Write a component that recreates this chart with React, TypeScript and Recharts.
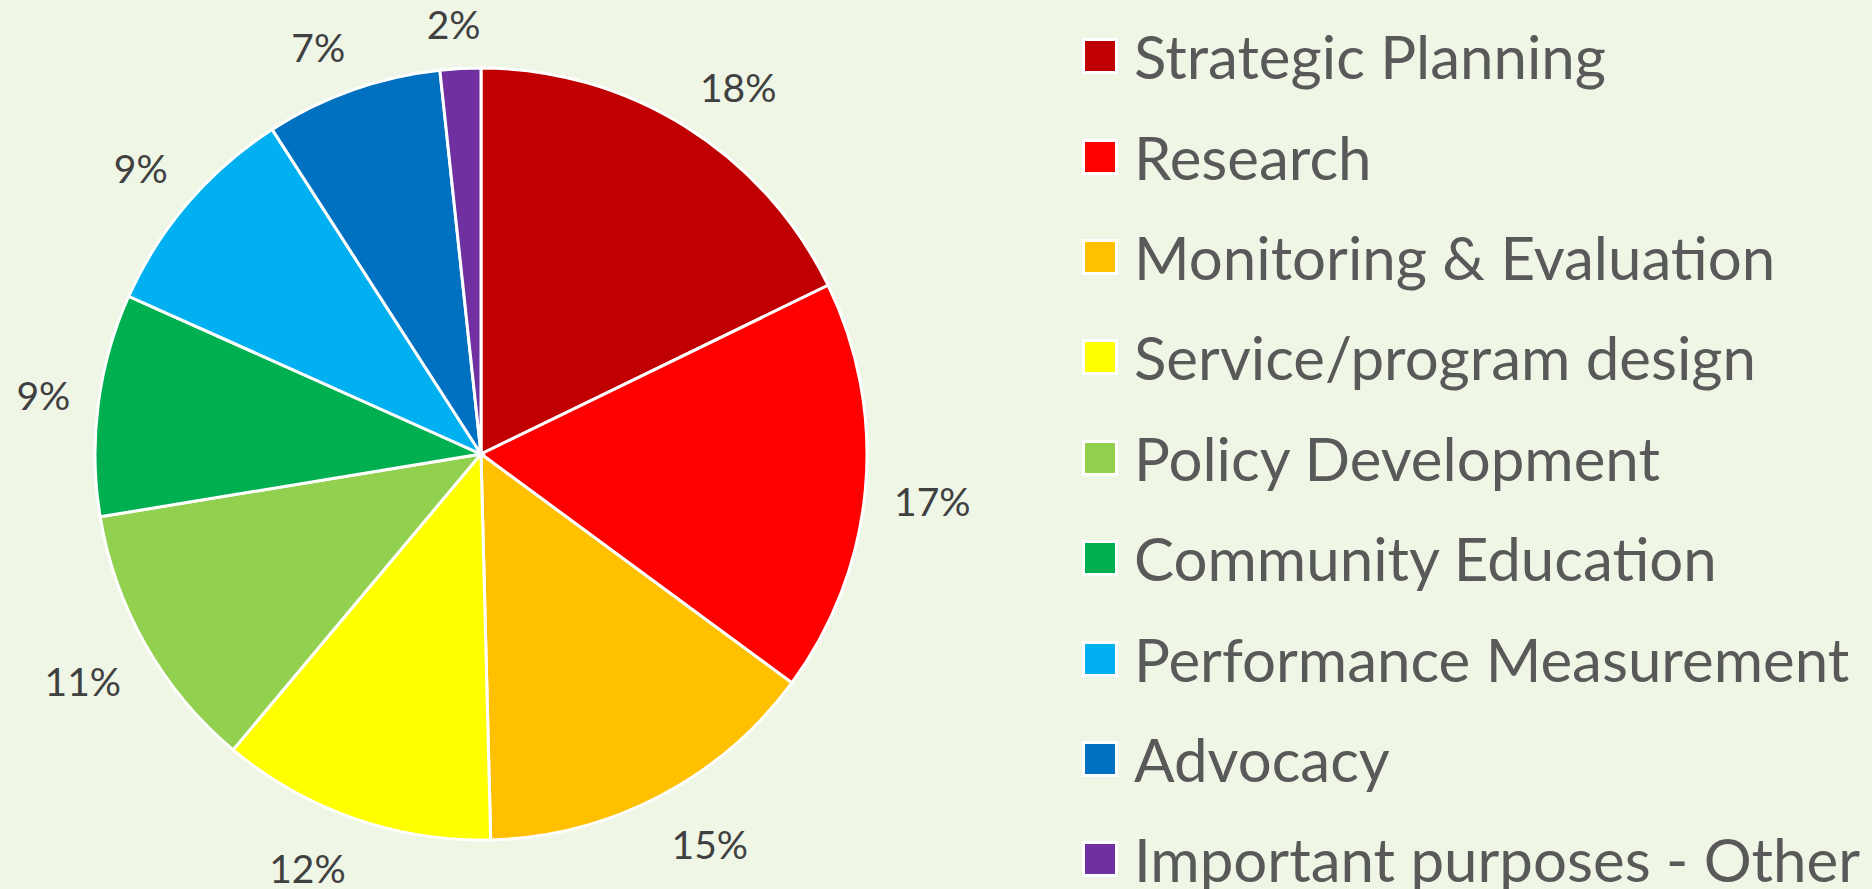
import { PieChart, Pie, Cell, Legend } from "recharts";

const categories = [
  "Strategic Planning",
  "Research",
  "Monitoring & Evaluation",
  "Service/program design",
  "Policy Development",
  "Community Education",
  "Performance Measurement",
  "Advocacy",
  "Important purposes - Other",
];
// percent of responses; labels show them rounded
const shares = [17.8, 17.3, 14.5, 11.5, 11.3, 9.3, 9.2, 7.4, 1.7];
const colors = ["#C00000", "#FF0000", "#FFC000", "#FFFF00", "#92D050", "#00B050", "#00B0F0", "#0070C0", "#7030A0"];

const data = categories.map((name, i) => ({ name, value: shares[i], color: colors[i] }));

const FONT = "Lato, 'Open Sans', sans-serif";
const LABEL_SIZE = 39;

const clamp = (v: number) => Math.max(-1, Math.min(1, v));

// Excel-style outside-end: anchor just past the rim, box pushed off by its corner
const OutsideLabel = ({ cx, cy, midAngle, outerRadius, value }: any) => {
  const RADIAN = Math.PI / 180;
  const text = `${Math.round(value)}%`;
  const hw = text.length * 12;
  const hh = 17;
  const c = Math.cos(-midAngle * RADIAN);
  const s = Math.sin(-midAngle * RADIAN);
  const r = outerRadius + 31;
  const x = cx + r * c + hw * clamp(4 * c);
  const y = cy + r * s + hh * clamp(4 * s) + 3;
  return (
    <text x={x} y={y} fill="#404040" textAnchor="middle" dominantBaseline="central" fontSize={LABEL_SIZE} fontFamily={FONT}>
      {text}
    </text>
  );
};

const LegendList = () => (
  <div style={{ fontFamily: FONT }}>
    {data.map((d) => (
      <div key={d.name} style={{ display: "flex", alignItems: "center", height: 100.4 }}>
        <div style={{ width: 30, height: 30, background: d.color, border: "3px solid #fff", boxSizing: "content-box", marginLeft: -3, flexShrink: 0 }} />
        <span style={{ marginLeft: 16, fontSize: 60, color: "#595959", whiteSpace: "nowrap", lineHeight: 1 }}>{d.name}</span>
      </div>
    ))}
  </div>
);

export default function App() {
  return (
    <div style={{ width: 1872, height: 889, background: "#EFF6E6" }}>
      <style>{`body{margin:0}`}</style>
      <PieChart width={1872} height={889} margin={{ top: 0, right: 0, bottom: 0, left: 0 }}>
        <Pie
          data={data}
          dataKey="value"
          nameKey="name"
          cx={481}
          cy={454}
          outerRadius={386}
          startAngle={90}
          endAngle={-270}
          stroke="#ffffff"
          strokeWidth={3}
          labelLine={false}
          label={<OutsideLabel />}
          isAnimationActive={false}
        >
          {data.map((d) => (
            <Cell key={d.name} fill={d.color} />
          ))}
        </Pie>
        <Legend
          layout="vertical"
          align="right"
          verticalAlign="top"
          content={<LegendList />}
          wrapperStyle={{ left: 1085, top: 6, right: "auto", width: 787 }}
        />
      </PieChart>
    </div>
  );
}
